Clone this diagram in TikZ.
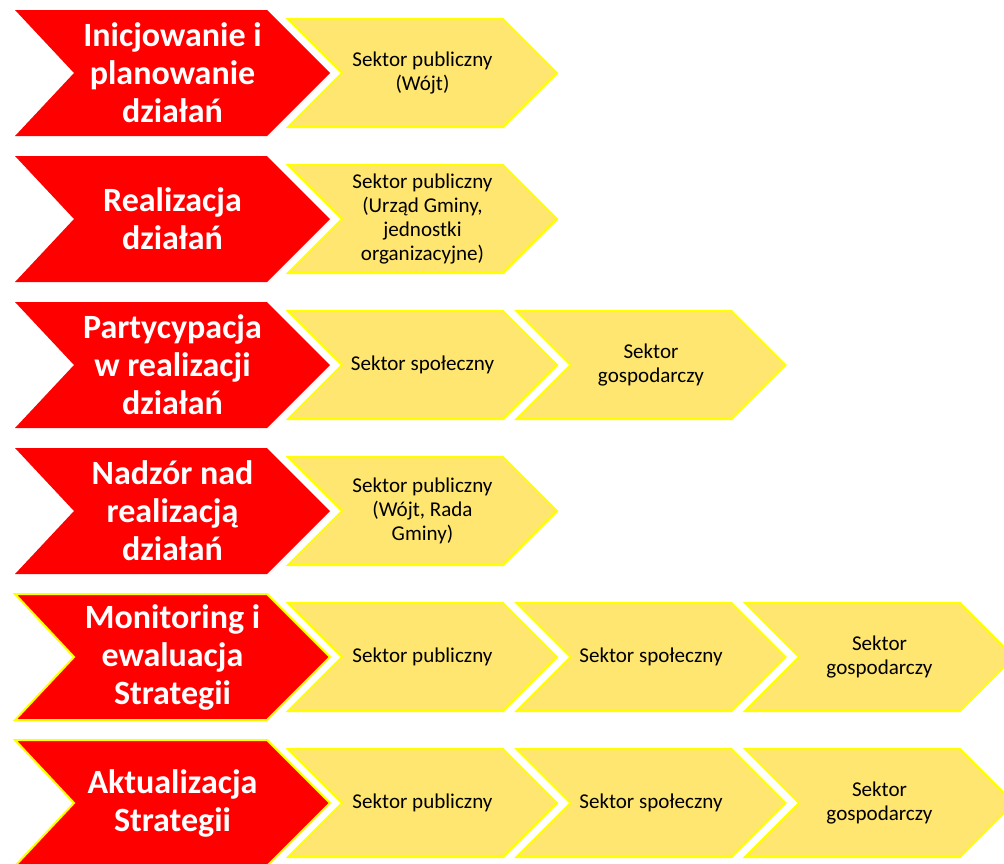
\documentclass[tikz,border=0pt]{standalone}
\usepackage{fontspec}
\setmainfont{Carlito}
\definecolor{chevred}{RGB}{255,0,0}
\definecolor{chevyellow}{RGB}{255,230,112}
\definecolor{lineyellow}{RGB}{255,255,0}
\tikzset{
  redchev/.style={fill=chevred},
  redchevline/.style={fill=chevred, draw=lineyellow, line width=1.5pt},
  yellowchev/.style={fill=chevyellow, draw=lineyellow, line width=1.5pt},
  redtext/.style={text=white, align=center, font=\fontsize{25.5}{28.5}\selectfont\bfseries},
  yellowtext/.style={text=black, align=center, font=\fontsize{15.8}{17.8}\selectfont}
}
\begin{document}
\begin{tikzpicture}[x=0.75pt, y=-0.75pt]
  \useasboundingbox (0,0) rectangle (1004,864);
  \clip (0,0) rectangle (1004,864);

  % red chevrons
  \foreach \c in {73,219,365,511} {
    \path[redchev] (15,\c-63) -- (267,\c-63) -- (330,\c) -- (267,\c+63) -- (15,\c+63) -- (74,\c) -- cycle;
  }
  \foreach \c in {657,803} {
    \path[redchevline] (15,\c-63) -- (267,\c-63) -- (330,\c) -- (267,\c+63) -- (15,\c+63) -- (74,\c) -- cycle;
  }

  % yellow chevrons
  \foreach \c/\n in {73/1,219/1,365/2,511/1,657/3,803/3} {
    \foreach \k in {1,...,\n} {
      \pgfmathsetmacro{\xo}{288+228.5*(\k-1)}
      \path[yellowchev] (\xo,\c-54) -- (\xo+215,\c-54) -- (\xo+269,\c) -- (\xo+215,\c+54) -- (\xo,\c+54) -- (\xo+54,\c) -- cycle;
    }
  }

  \begin{scope}[every node/.style={redtext}]
    \node (init)  at (172.5,73)  {Inicjowanie i\\planowanie\\działań};
    \node (real)  at (172.5,219) {Realizacja\\działań};
    \node (part)  at (172.5,365) {Partycypacja\\w realizacji\\działań};
    \node (nadz)  at (172.5,511) {Nadzór nad\\realizacją\\działań};
    \node (moni)  at (172.5,657) {Monitoring i\\ewaluacja\\Strategii};
    \node (aktu)  at (172.5,803) {Aktualizacja\\Strategii};
  \end{scope}

  \begin{scope}[every node/.style={yellowtext}]
    \node (init1) at (422.5,73)  {Sektor publiczny\\(Wójt)};
    \node (real1) at (422.5,219) {Sektor publiczny\\(Urząd Gminy,\\jednostki\\organizacyjne)};
    \node (part1) at (422.5,365) {Sektor społeczny};
    \node (part2) at (651,365)   {Sektor\\gospodarczy};
    \node (nadz1) at (422.5,511) {Sektor publiczny\\(Wójt, Rada\\Gminy)};
    \node (moni1) at (422.5,657) {Sektor publiczny};
    \node (moni2) at (651,657)   {Sektor społeczny};
    \node (moni3) at (879.5,657) {Sektor\\gospodarczy};
    \node (aktu1) at (422.5,803) {Sektor publiczny};
    \node (aktu2) at (651,803)   {Sektor społeczny};
    \node (aktu3) at (879.5,803) {Sektor\\gospodarczy};
  \end{scope}

\end{tikzpicture}
\end{document}
